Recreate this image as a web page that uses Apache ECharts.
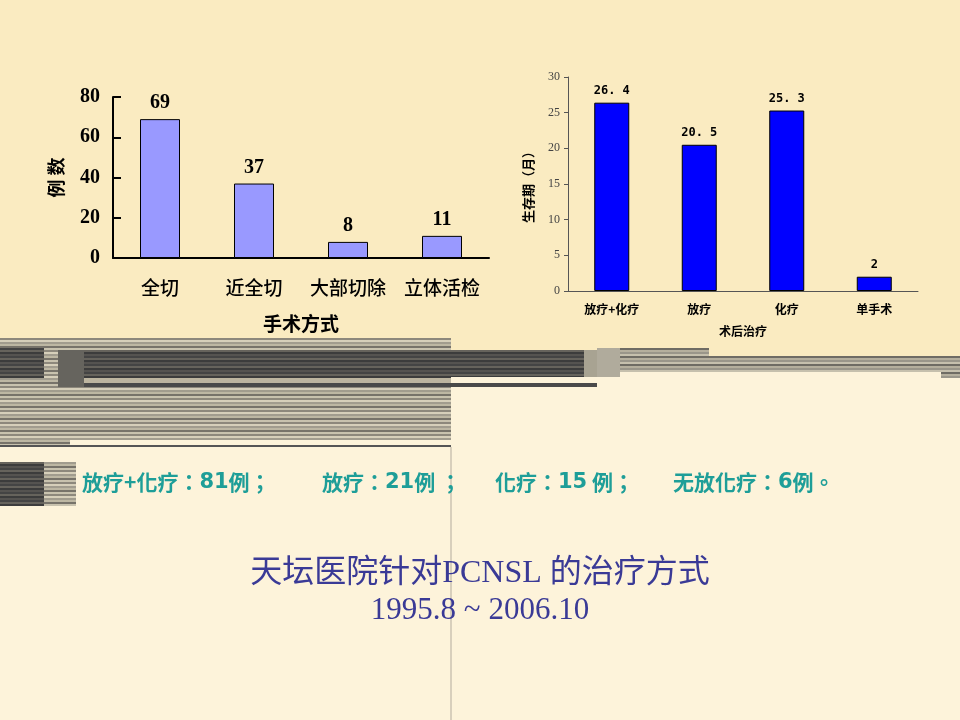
<!DOCTYPE html>
<html>
<head>
<meta charset="utf-8">
<script src="https://cdn.jsdelivr.net/npm/echarts@6/dist/echarts.min.js"></script>
<style>
  html, body { margin: 0; padding: 0; background: #fdf3da; }
  #chart { width: 960px; height: 720px; }
</style>
</head>
<body>
<div id="chart"></div>
<script>
// 手术方式 (左图)
const surgeryTypes = ['全切', '近全切', '大部切除', '立体活检'];
const surgeryCounts = [69, 37, 8, 11];
// 术后治疗 (右图)
const treatments = ['放疗+化疗', '放疗', '化疗', '单手术'];
const survivalMonths = [26.4, 20.5, 25.3, 2];
// 底部说明文字: [前缀, 例数, 后缀]
const notes = [
    ['放疗+化疗：', '81', '例；'],
    ['放疗：', '21', '例 ；'],
    ['化疗：', '15', ' 例；'],
    ['无放化疗：', '6', '例。']
];
const titleLines = ['天坛医院针对PCNSL 的治疗方式', '1995.8 ~ 2006.10'];

// 条纹图案
function stripes(colors, h) {
    const c = document.createElement('canvas');
    c.width = 4;
    c.height = colors.length * h;
    const ctx = c.getContext('2d');
    colors.forEach((col, i) => {
        ctx.fillStyle = col;
        ctx.fillRect(0, i * h, 4, h);
    });
    return { image: c, repeat: 'repeat' };
}
const lightStripe = stripes(['#c8c2ae', '#8d887c', '#d6cfba', '#a19c8e', '#bdb7a3', '#77736a'], 2);
const darkStripe = stripes(['#3c3c3c', '#555350', '#444444', '#66635c'], 2);
const midStripe = stripes(['#9a968a', '#c6c0ad', '#6f6c64', '#b5af9d'], 2);

function rect(x, y, w, h, fill) {
    return { type: 'rect', z: -5, silent: true, shape: { x, y, width: w, height: h }, style: { fill } };
}

const decorations = [
    rect(0, 0, 960, 356, '#faebc1'),
    rect(0, 338, 451, 109, lightStripe),
    rect(0, 348, 44, 30, darkStripe),
    rect(70, 440, 381, 6, '#fdf3da'),
    rect(0, 445, 451, 2, '#555555'),
    rect(58, 350, 393, 37, darkStripe),
    rect(58, 350, 26, 37, '#66645e'),
    rect(84, 378, 367, 5, '#bdb5a0'),
    rect(451, 350, 133, 27, darkStripe),
    rect(584, 350, 13, 27, '#a8a392'),
    rect(451, 377, 146, 6, '#fdf3da'),
    rect(84, 383, 513, 4, '#4a4a4a'),
    rect(597, 348, 112, 9, midStripe),
    rect(597, 356, 344, 16, midStripe),
    rect(597, 348, 23, 29, '#b0ab9c'),
    rect(941, 356, 19, 22, midStripe),
    rect(0, 462, 44, 44, darkStripe),
    rect(44, 462, 32, 44, lightStripe),
    { type: 'line', z: -4, silent: true, shape: { x1: 451, y1: 447, x2: 451, y2: 720 }, style: { stroke: '#cbc3b2', lineWidth: 1.5 } }
];

const noteX = [82, 322, 495, 673];
const noteTexts = notes.map((n, i) => ({
    type: 'text', z: 100, left: noteX[i], top: 472,
    style: {
        text: '{c|' + n[0] + '}{n|' + n[1] + '}{c|' + n[2] + '}',
        fill: '#1e9e98',
        rich: {
            c: { fontFamily: '"Noto Sans CJK TC"', fontSize: 21, lineHeight: 26, fontWeight: 'bold', color: '#1e9e98', verticalAlign: 'middle' },
            n: { fontFamily: '"DejaVu Sans"', fontSize: 21, lineHeight: 26, fontWeight: 'bold', color: '#1e9e98', verticalAlign: 'middle' }
        }
    }
}));

const titleTexts = titleLines.map((t, i) => ({
    type: 'text', z: 100, left: 'center', top: 558 + i * 37,
    style: { text: t, fill: '#3a3a96', font: (i === 0 ? '32px' : '31px') + ' "Liberation Serif", "Noto Sans CJK SC"' }
}));

const chart = echarts.init(document.getElementById('chart'));

const leftFont = '"Liberation Serif", "Noto Sans CJK SC", serif';
const cjk = '"Noto Sans CJK SC", sans-serif';

const option = {
    backgroundColor: '#fdf3da',
    animation: false,
    graphic: decorations.concat(noteTexts, titleTexts),
    grid: [
        { left: 113, top: 97, width: 376, height: 161 },
        { left: 568, top: 77, width: 350, height: 214 }
    ],
    xAxis: [
        {
            gridIndex: 0,
            type: 'category',
            data: surgeryTypes,
            name: '手术方式',
            nameLocation: 'middle',
            nameGap: 56,
            nameTextStyle: { fontFamily: cjk, fontSize: 19, fontWeight: 'bold', color: '#000' },
            axisLine: { lineStyle: { color: '#000', width: 2 } },
            axisTick: { inside: true, length: 6, lineStyle: { color: '#000', width: 2 } },
            axisLabel: { interval: 0, hideOverlap: false, margin: 20, fontFamily: cjk, fontSize: 19, fontWeight: 500, color: '#000' }
        },
        {
            gridIndex: 1,
            type: 'category',
            data: treatments,
            name: '术后治疗',
            nameLocation: 'middle',
            nameGap: 34,
            nameTextStyle: { fontFamily: cjk, fontSize: 12, fontWeight: 'bold', color: '#000' },
            axisLine: { lineStyle: { color: '#555', width: 1 } },
            axisTick: { length: 4, lineStyle: { color: '#555' } },
            axisLabel: { interval: 0, margin: 12, fontFamily: cjk, fontSize: 12, fontWeight: 'bold', color: '#000' }
        }
    ],
    yAxis: [
        {
            gridIndex: 0,
            type: 'value',
            min: 0, max: 80, interval: 20,
            name: '例 数',
            nameLocation: 'middle',
            nameGap: 48,
            nameRotate: 90,
            nameTextStyle: { fontFamily: cjk, fontSize: 18, fontWeight: 'bold', color: '#000' },
            splitLine: { show: false },
            axisLine: { show: true, lineStyle: { color: '#000', width: 2 } },
            axisTick: { show: true, inside: true, length: 8, lineStyle: { color: '#000', width: 2 } },
            axisLabel: { margin: 13, fontFamily: leftFont, fontSize: 20, fontWeight: 'bold', color: '#000' }
        },
        {
            gridIndex: 1,
            type: 'value',
            min: 0, max: 30, interval: 5,
            name: '生存期（月）',
            nameLocation: 'middle',
            nameGap: 33,
            nameRotate: 90,
            nameTextStyle: { fontFamily: cjk, fontSize: 13, fontWeight: 'bold', color: '#000' },
            splitLine: { show: false },
            axisLine: { show: true, lineStyle: { color: '#555' } },
            axisTick: { show: true, length: 4, lineStyle: { color: '#555' } },
            axisLabel: { margin: 8, fontFamily: leftFont, fontSize: 12, color: '#444' }
        }
    ],
    series: [
        {
            type: 'bar',
            xAxisIndex: 0,
            yAxisIndex: 0,
            data: surgeryCounts,
            barWidth: 40,
            itemStyle: { color: '#9999ff', borderColor: '#000', borderWidth: 1 },
            label: {
                show: true, position: 'top', distance: 6,
                fontFamily: leftFont, fontSize: 20, fontWeight: 'bold', color: '#000'
            }
        },
        {
            type: 'bar',
            xAxisIndex: 1,
            yAxisIndex: 1,
            data: survivalMonths,
            barWidth: 35,
            itemStyle: { color: '#0000ff', borderColor: '#000', borderWidth: 1 },
            label: {
                show: true, position: 'top', distance: 6,
                fontFamily: '"DejaVu Sans Mono", monospace', fontSize: 12, fontWeight: 'bold', color: '#000',
                formatter: p => String(p.value).replace('.', '. ')
            }
        }
    ]
};

chart.setOption(option);
</script>
</body>
</html>
